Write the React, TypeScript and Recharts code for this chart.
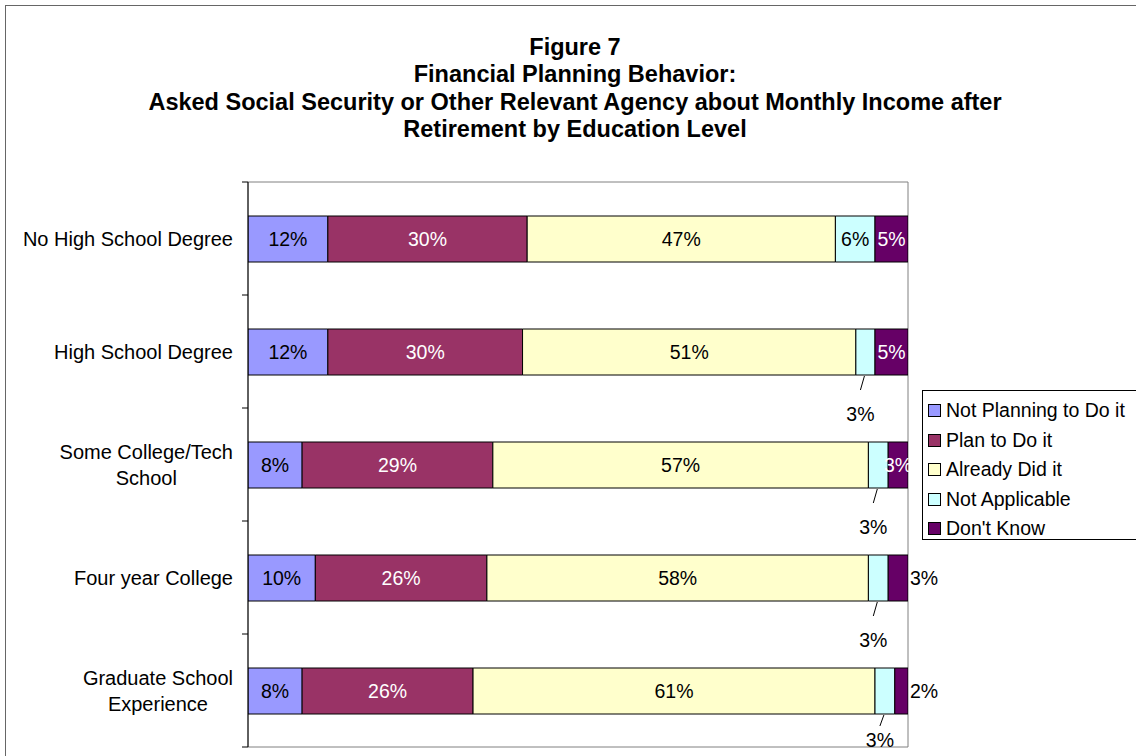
import React from 'react';
import { BarChart, Bar, XAxis, YAxis, Legend, LabelList, ReferenceArea } from 'recharts';

// chart values (percent of each education group)
const categories = [
  'No High School Degree',
  'High School Degree',
  'Some College/Tech\nSchool',
  'Four year College',
  'Graduate School\nExperience',
];
const notPlanning = [12.1, 12.1, 8.2, 10.2, 8.2];
const planTo = [30.2, 29.5, 28.9, 26.0, 25.9];
const alreadyDid = [46.7, 50.5, 56.9, 57.8, 60.9];
const notApplicable = [6.0, 2.9, 3.0, 3.0, 3.0];
const dontKnow = [5.0, 5.0, 3.0, 3.0, 2.0];
const dontKnowLabelOutside = ['Four year College', 'Graduate School\nExperience'];

const titleLines = [
  'Figure 7',
  'Financial Planning Behavior:',
  'Asked Social Security or Other Relevant Agency about Monthly Income after',
  'Retirement by Education Level',
];

const data = categories.map((category, i) => ({
  category,
  notPlanning: notPlanning[i],
  planTo: planTo[i],
  alreadyDid: alreadyDid[i],
  notApplicable: notApplicable[i],
  dontKnow: dontKnow[i],
}));

const series = [
  { key: 'notPlanning', name: 'Not Planning to Do it', color: '#9999FF', text: '#000', values: notPlanning },
  { key: 'planTo', name: 'Plan to Do it', color: '#993366', text: '#fff', values: planTo },
  { key: 'alreadyDid', name: 'Already Did it', color: '#FFFFCC', text: '#000', values: alreadyDid },
  { key: 'notApplicable', name: 'Not Applicable', color: '#CCFFFF', text: '#000', values: notApplicable },
  { key: 'dontKnow', name: "Don't Know", color: '#660066', text: '#fff', values: dontKnow },
];
const seriesOrder = series.map((s) => s.name);

const FONT = '"Liberation Sans", Arial, sans-serif';
const LABEL_SIZE = 19.5;
const CHART_W = 1136;
const CHART_H = 756;
const MARGIN = { top: 182, right: 228, bottom: 9, left: 0 };
const PLOT_BOTTOM = CHART_H - MARGIN.bottom;
const BAND = (CHART_H - MARGIN.top - MARGIN.bottom) / categories.length;
const TICK_MARGIN = 15;
const TICK_LEN = 6;

let measureCtx: CanvasRenderingContext2D | null = null;
const textWidth = (s: string, font: string) => {
  if (!measureCtx) measureCtx = document.createElement('canvas').getContext('2d');
  if (!measureCtx) return s.length * 10;
  measureCtx.font = font;
  return measureCtx.measureText(s).width;
};

// category label plus the small tick marks between categories (Excel style)
const CategoryTick = (props: any) => {
  const { x, y, payload, index } = props;
  const axisX = x + TICK_MARGIN;
  const lines = String(payload.value).split('\n');
  const marks = [y - BAND / 2];
  if (index === categories.length - 1) marks.push(y + BAND / 2);
  let texts;
  if (lines.length === 1) {
    texts = (
      <text x={x} y={y} dy="0.35em" textAnchor="end" fontSize={20} fill="#000" fontFamily={FONT}>
        {lines[0]}
      </text>
    );
  } else {
    const w = Math.max(...lines.map((l) => textWidth(l, `20px ${FONT}`)));
    const cx = x - w / 2;
    texts = lines.map((l, i) => (
      <text
        key={i}
        x={cx}
        y={y + (i - (lines.length - 1) / 2) * 26}
        dy="0.35em"
        textAnchor="middle"
        fontSize={20}
        fill="#000"
        fontFamily={FONT}
      >
        {l}
      </text>
    ));
  }
  return (
    <g>
      {marks.map((my, i) => (
        <line key={i} x1={axisX - TICK_LEN} x2={axisX} y1={my} y2={my} stroke="#000" strokeWidth={1} />
      ))}
      {texts}
    </g>
  );
};

const makeLabel = (s: any) => (p: any) => {
  const vb = p.viewBox && p.viewBox.width != null ? p.viewBox : p;
  const x = Number(vb.x);
  const y = Number(vb.y);
  const width = Number(vb.width);
  const height = Number(vb.height);
  const idx = p.index;
  const v = typeof p.value === 'number' ? p.value : s.values[idx];
  const label = `${Math.round(v)}%`;
  const cx = x + width / 2;
  const cy = y + height / 2;

  // small "not applicable" slices get a label under the bar with a leader line
  if (s.key === 'notApplicable' && v < 4.5) {
    const bottom = y + height;
    const ly = Math.min(bottom + 39, PLOT_BOTTOM - 7);
    const lineEnd = Math.max(bottom + 12, ly - 24);
    return (
      <g>
        <line x1={cx - 1} y1={bottom + 1} x2={cx - 5} y2={lineEnd} stroke="#000" strokeWidth={1} />
        <text x={cx - 5} y={ly} dy="0.35em" textAnchor="middle" fontSize={LABEL_SIZE} fill="#000" fontFamily={FONT}>
          {label}
        </text>
      </g>
    );
  }
  if (s.key === 'dontKnow' && dontKnowLabelOutside.includes(categories[idx])) {
    return (
      <text x={x + width + 2} y={cy} dy="0.35em" textAnchor="start" fontSize={LABEL_SIZE} fill="#000" fontFamily={FONT}>
        {label}
      </text>
    );
  }
  return (
    <text x={cx} y={cy} dy="0.35em" textAnchor="middle" fontSize={LABEL_SIZE} fill={s.text} fontFamily={FONT}>
      {label}
    </text>
  );
};

const LegendBox = ({ payload }: any) => {
  const items = [...(payload || [])].sort(
    (a: any, b: any) => seriesOrder.indexOf(a.value) - seriesOrder.indexOf(b.value)
  );
  return (
    <div
      style={{
        border: '1px solid #000',
        width: 240,
        height: 143,
        paddingTop: 5,
        background: '#fff',
        fontFamily: FONT,
      }}
    >
      {items.map((e: any) => (
        <div key={e.value} style={{ display: 'flex', alignItems: 'center', height: 29.5 }}>
          <span
            style={{
              display: 'inline-block',
              width: 11,
              height: 11,
              border: '1px solid #000',
              background: e.color,
              marginLeft: 5,
              marginRight: 5,
            }}
          />
          <span style={{ fontSize: LABEL_SIZE, color: '#000', whiteSpace: 'nowrap' }}>{e.value}</span>
        </div>
      ))}
    </div>
  );
};

export default function App() {
  return (
    <div style={{ position: 'fixed', left: 0, top: 0, width: 1136, height: 756, overflow: 'hidden', background: '#fff', fontFamily: FONT }}>
      <div style={{ position: 'absolute', left: 5, top: 5, width: 1200, height: 800, border: '1px solid #666' }} />
      <div
        style={{
          position: 'absolute',
          left: 0,
          top: 34,
          width: 1150,
          textAlign: 'center',
          fontWeight: 'bold',
          fontSize: 23.5,
          lineHeight: '27.3px',
          color: '#000',
        }}
      >
        {titleLines.map((t) => (
          <div key={t}>{t}</div>
        ))}
      </div>
      <div style={{ position: 'absolute', left: 0, top: 0 }}>
        <BarChart
          width={CHART_W}
          height={CHART_H}
          data={data}
          layout="vertical"
          stackOffset="expand"
          barSize={46}
          margin={MARGIN}
          style={{ fontFamily: FONT }}
        >
          <XAxis type="number" domain={[0, 1]} hide allowDataOverflow />
          <YAxis
            type="category"
            dataKey="category"
            width={248}
            tickSize={0}
            tickMargin={TICK_MARGIN}
            tickLine={false}
            axisLine={{ stroke: '#000' }}
            tick={<CategoryTick />}
            interval={0}
          />
          <ReferenceArea
            x1={0}
            x2={1}
            fill="#fff"
            fillOpacity={0}
            stroke="#808080"
            strokeWidth={1}
            ifOverflow="visible"
          />
          {series.map((s) => (
            <Bar
              key={s.key}
              dataKey={s.key}
              name={s.name}
              stackId="a"
              fill={s.color}
              stroke="#000"
              strokeWidth={1}
              isAnimationActive={false}
            >
              <LabelList dataKey={s.key} content={makeLabel(s)} />
            </Bar>
          ))}
          <Legend
            layout="vertical"
            align="center"
            verticalAlign="middle"
            content={<LegendBox />}
            wrapperStyle={{ left: 922, top: 390, width: 260 }}
          />
        </BarChart>
      </div>
    </div>
  );
}
